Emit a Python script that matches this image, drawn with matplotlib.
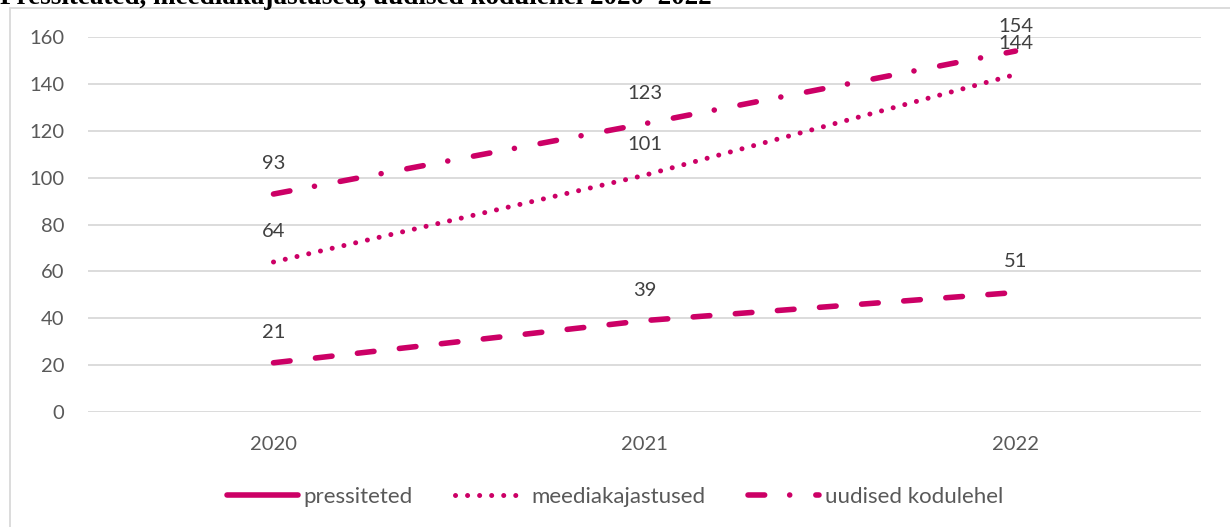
import matplotlib.pyplot as plt
from matplotlib.patches import Rectangle

years = ["2020", "2021", "2022"]
pressiteted = [21, 39, 51]
meediakajastused = [64, 101, 144]
uudised = [93, 123, 154]

plt.rcParams['font.family'] = ['Lato', 'DejaVu Sans']
pink = '#CC0066'
grey_txt = '#595959'

fig = plt.figure(figsize=(12.3, 5.27), dpi=100)
ax = fig.add_axes([88/1230, 1 - 412/527, (1201 - 88)/1230, (412 - 37)/527])

x = range(len(years))
l1, = ax.plot(x, pressiteted, color=pink, lw=4, label='pressiteted',
              dash_capstyle='round', solid_capstyle='round')
l1.set_dashes((3, 4.6))
l2, = ax.plot(x, meediakajastused, color=pink, lw=3.6, label='meediakajastused',
              dash_capstyle='round')
l2.set_dashes((0.01, 2.4))
l3, = ax.plot(x, uudised, color=pink, lw=4, label='uudised kodulehel',
              dash_capstyle='round')
l3.set_dashes((3, 4.5, 0.01, 4.7))

# data labels above points
for series in (pressiteted, meediakajastused, uudised):
    for i, v in enumerate(series):
        off = 18 if v == 154 else 22
        ax.annotate(str(v), (i, v), xytext=(0, off), textcoords='offset points',
                    ha='center', va='center', fontsize=14.5, color='#404040')

ax.set_xlim(-0.5, 2.5)
ax.set_ylim(0, 160)
ax.set_yticks(range(0, 161, 20))
ax.set_xticks(list(x))
ax.set_xticklabels(years)
ax.tick_params(length=0, labelsize=14.5, labelcolor=grey_txt)
ax.tick_params(axis='y', pad=17)
ax.tick_params(axis='x', pad=17)
ax.grid(axis='y', color='#D9D9D9', lw=1.3)
ax.set_axisbelow(True)
for s in ax.spines.values():
    s.set_visible(False)

leg = fig.legend(handles=[l1, l2, l3], loc='center', bbox_to_anchor=(0.5, 1 - 497/527),
                 ncol=3, frameon=False, fontsize=16, handlelength=3.2,
                 handletextpad=0.25, columnspacing=1.9)
for t in leg.get_texts():
    t.set_color(grey_txt)
leg.get_lines()[0].set_linestyle('-')

# chart border
fig.patches.append(Rectangle((10/1230, -0.1), 1.1, 1.1 - 8/527, transform=fig.transFigure,
                             fill=False, edgecolor='#D9D9D9', lw=1.3))

fig.text(0.0, 1 - 4/527, "Pressiteated, meediakajastused, uudised kodulehel 2020–2022",
         fontsize=19.5, fontweight='bold', family=['Liberation Serif', 'DejaVu Serif'],
         va='baseline', ha='left')

fig.savefig('out.png', dpi=100)
